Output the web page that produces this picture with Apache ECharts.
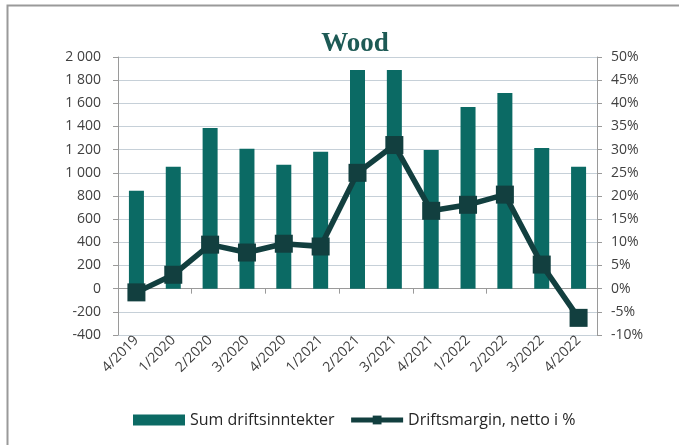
<!DOCTYPE html>
<html>
<head>
<meta charset="utf-8">
<script src="https://cdn.jsdelivr.net/npm/echarts@6/dist/echarts.min.js"></script>
<style>
  html, body { margin: 0; padding: 0; background: #fff; }
  #chart { width: 679px; height: 445px; }
</style>
</head>
<body>
<div id="chart"></div>
<script>
// kvartaler
var categories = ["4/2019", "1/2020", "2/2020", "3/2020", "4/2020", "1/2021", "2/2021",
  "3/2021", "4/2021", "1/2022", "2/2022", "3/2022", "4/2022"];
// Sum driftsinntekter (venstre akse)
var inntekter = [845, 1052, 1388, 1207, 1069, 1181, 1888, 1888, 1198, 1569, 1690, 1215, 1052];
// Driftsmargin, netto i % (høyre akse)
var margin = [-0.8, 3.0, 9.5, 7.8, 9.7, 9.1, 25.0, 31.0, 16.8, 18.1, 20.3, 5.2, -6.3];

var axisFont = { fontFamily: "Open Sans", fontSize: 14, color: "#404040" };

var chart = echarts.init(document.getElementById("chart"));
chart.setOption({
  animation: false,
  title: {
    text: "Wood",
    left: 350,
    textAlign: "center",
    top: 26,
    textStyle: { fontFamily: "Liberation Serif", fontSize: 27, fontWeight: "bold", color: "#1d5a55" }
  },
  graphic: [
    { type: "polyline", silent: true, shape: { points: [[679, 5.5], [7.5, 5.5], [7.5, 445]] },
      style: { stroke: "#9a9a9a", lineWidth: 2, fill: null } }
  ],
  grid: { left: 118, right: 82, top: 57, bottom: 110 },
  legend: {
    bottom: 12,
    left: 128,
    itemWidth: 52,
    itemHeight: 11,
    itemGap: 14,
    textStyle: { fontFamily: "Open Sans", fontSize: 16, color: "#262626" },
    data: [
      { name: "Sum driftsinntekter", icon: "rect" },
      { name: "Driftsmargin, netto i %", lineStyle: { width: 5 }, itemStyle: { color: "#123f3f" } }
    ]
  },
  xAxis: [
    {
      type: "category",
      data: categories,
      axisLine: { show: false, onZero: false },
      axisTick: { show: false },
      axisLabel: Object.assign({ rotate: 45, margin: 3, interval: 0 }, axisFont)
    },
    {
      type: "category",
      data: categories,
      position: "bottom",
      axisLine: { show: true, onZero: true, onZeroAxisIndex: 0, lineStyle: { color: "#9a9a9a", width: 1 } },
      axisTick: { show: true, length: 5, lineStyle: { color: "#9a9a9a" } },
      axisLabel: { show: false }
    }
  ],
  yAxis: [
    {
      type: "value",
      min: -400,
      max: 2000,
      interval: 200,
      axisLine: { show: true, lineStyle: { color: "#9a9a9a" } },
      axisTick: { show: true, length: 5, lineStyle: { color: "#9a9a9a" } },
      splitLine: { lineStyle: { color: "#c6d0d8" } },
      axisLabel: Object.assign({
        margin: 17,
        formatter: function (v) {
          var s = String(Math.abs(v)).replace(/\B(?=(\d{3})+(?!\d))/g, " ");
          return (v < 0 ? "-" : "") + s;
        }
      }, axisFont)
    },
    {
      type: "value",
      min: -10,
      max: 50,
      interval: 5,
      axisLine: { show: true, lineStyle: { color: "#9a9a9a" } },
      axisTick: { show: true, length: 5, lineStyle: { color: "#9a9a9a" } },
      splitLine: { show: false },
      axisLabel: Object.assign({ margin: 14, formatter: "{value}%" }, axisFont)
    }
  ],
  series: [
    {
      name: "Sum driftsinntekter",
      type: "bar",
      data: inntekter,
      xAxisIndex: 0,
      yAxisIndex: 0,
      barWidth: 15,
      itemStyle: { color: "#0b6a64" }
    },
    {
      name: "Driftsmargin, netto i %",
      type: "line",
      data: margin,
      xAxisIndex: 0,
      yAxisIndex: 1,
      symbol: "rect",
      symbolSize: 18,
      lineStyle: { color: "#123f3f", width: 5.5 },
      itemStyle: { color: "#123f3f" }
    }
  ]
});
</script>
</body>
</html>
